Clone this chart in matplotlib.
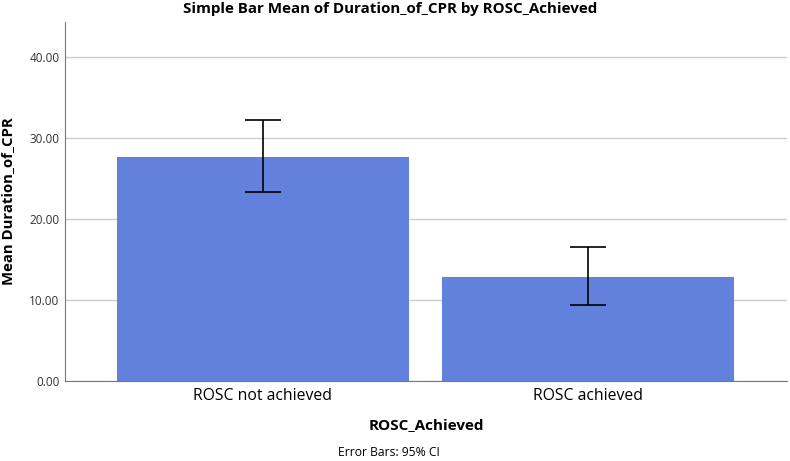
import numpy as np
import matplotlib.pyplot as plt

plt.rcParams['font.family'] = ['Open Sans', 'DejaVu Sans']

categories = ['ROSC not achieved', 'ROSC achieved']
means = [27.7, 12.85]
ci_low = [23.3, 9.35]
ci_high = [32.2, 16.5]

fig = plt.figure(figsize=(7.9, 4.61), dpi=100)
ax = fig.add_axes([65 / 790, 80 / 461, 722 / 790, 359 / 461])

x = np.arange(len(categories))
err = [np.array(means) - np.array(ci_low), np.array(ci_high) - np.array(means)]
ax.bar(x, means, width=0.897, color='#6181dc', zorder=2)
ax.errorbar(x, means, yerr=err, fmt='none', ecolor='black', elinewidth=1.2,
            capsize=13, capthick=1.2, zorder=3)

ax.set_xlim(-0.608, 1.61)
ax.set_ylim(0, 44.3)
ax.set_yticks([0, 10, 20, 30, 40])
ax.set_yticklabels(['%.2f' % v for v in [0, 10, 20, 30, 40]], fontsize=8.5, color='#333333')
ax.set_xticks(x)
ax.set_xticklabels(categories, fontsize=11.3)
ax.tick_params(axis='y', length=0, pad=4)
ax.tick_params(axis='x', length=0, pad=5)
ax.yaxis.grid(True, color='#cccccc', linewidth=1, zorder=0)
ax.set_axisbelow(True)

for s in ['top', 'right']:
    ax.spines[s].set_visible(False)
ax.spines['left'].set_color('#777777')
ax.spines['bottom'].set_color('#777777')

ax.set_ylabel('Mean Duration_of_CPR', fontsize=10.7, fontweight='bold', labelpad=10)
ax.set_xlabel('ROSC_Achieved', fontsize=11, fontweight='bold', labelpad=10)
fig.text(390 / 790, 1 - 9 / 461, 'Simple Bar Mean of Duration_of_CPR by ROSC_Achieved',
         ha='center', va='center', fontsize=10.9, fontweight='bold')
fig.text(389 / 790, 1 - 452 / 461, 'Error Bars: 95% CI', ha='center', va='center', fontsize=8.7)

fig.savefig('out.png', dpi=100)
